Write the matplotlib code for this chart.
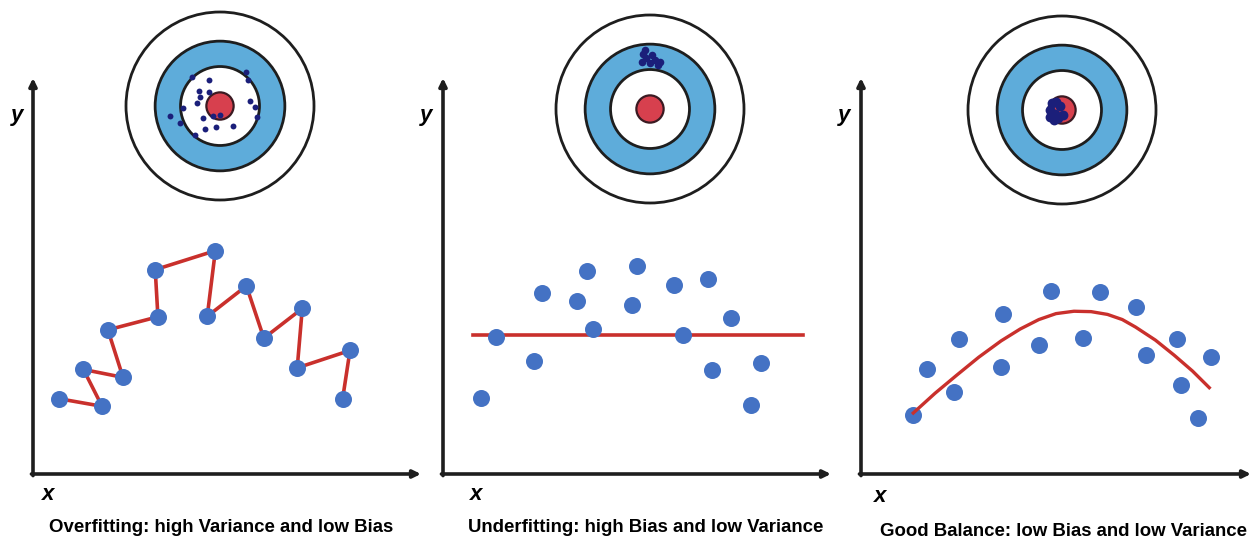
import matplotlib
matplotlib.use("Agg")
import matplotlib.pyplot as plt
from matplotlib.patches import Circle

W, H = 1256, 538
plt.rcParams['font.family'] = ['Liberation Sans', 'DejaVu Sans']

# ---------------- data ----------------
captions = ["Overfitting: high Variance and low Bias",
            "Underfitting: high Bias and low Variance",
            "Good Balance: low Bias and low Variance"]

# panel 1 (overfitting) - points joined in order
over_x = [0.68, 1.78, 1.30, 2.32, 1.93, 3.22, 3.15, 4.70, 4.49, 5.50, 5.95, 6.94, 6.81, 8.17, 7.98]
over_y = [1.90, 1.71, 2.64, 2.44, 3.64, 3.97, 5.16, 5.64, 3.98, 4.75, 3.43, 4.18, 2.68, 3.12, 1.90]

# panel 2 (underfitting)
under_x = [0.97, 1.36, 2.35, 2.56, 3.45, 3.72, 3.87, 4.88, 4.99, 5.95, 6.19, 6.83, 7.42, 6.93, 8.19, 7.93]
under_y = [1.92, 3.46, 2.86, 4.58, 4.37, 5.13, 3.66, 4.26, 5.24, 4.78, 3.52, 4.92, 3.93, 2.62, 2.81, 1.73]
under_line_x = [0.78, 9.27]
under_line_y = [3.51, 3.51]

# panel 3 (good balance)
good_x = [1.33, 1.70, 2.39, 2.50, 3.59, 3.64, 4.56, 4.86, 5.70, 6.13, 7.04, 7.30, 8.10, 8.20, 8.97, 8.63]
good_y = [1.50, 2.66, 2.07, 3.42, 2.70, 4.05, 3.26, 4.62, 3.44, 4.60, 4.22, 3.01, 3.42, 2.25, 2.95, 1.41]
good_curve_x = [1.34, 1.90, 2.46, 3.02, 3.59, 4.08, 4.56, 5.00, 5.46, 5.90, 6.32, 6.70, 7.04, 7.55, 8.03, 8.50, 8.93]
good_curve_y = [1.54, 2.04, 2.50, 2.95, 3.36, 3.66, 3.90, 4.05, 4.11, 4.10, 4.03, 3.90, 3.71, 3.38, 3.00, 2.60, 2.18]

# target hits (relative to target radius, centre = 0,0)
hits1_x = [-0.30, -0.12, 0.28, 0.30, -0.22, -0.12, -0.21, -0.24, -0.39, -0.53, -0.43, -0.18, -0.07, 0.00, -0.04, -0.16, -0.27, 0.14, 0.32, 0.37, 0.39]
hits1_y = [0.31, 0.28, 0.36, 0.28, 0.16, 0.15, 0.10, 0.03, -0.02, -0.11, -0.18, -0.13, -0.11, -0.10, -0.22, -0.24, -0.31, -0.21, 0.05, -0.01, -0.12]
hits2_x = [-0.07, -0.04, -0.09, 0.02, 0.05, 0.09, 0.00, -0.05, 0.11]
hits2_y = [0.59, 0.54, 0.50, 0.57, 0.52, 0.47, 0.49, 0.63, 0.50]
hits3_x = [-0.11, -0.06, -0.13, -0.07, -0.02, -0.09, -0.04, 0.01, -0.13]
hits3_y = [0.07, 0.09, 0.00, -0.04, 0.04, -0.11, -0.09, -0.05, -0.07]

# ---------------- layout ----------------
fig = plt.figure(figsize=(W / 100, H / 100), dpi=100)
fig.patch.set_facecolor('white')

PT_BLUE = '#4472C4'
LINE_RED = '#C9302C'
RING_BLUE = '#5EACDA'
BULL_RED = '#D7404E'
EDGE = '#1e1e1e'
HIT = '#1b1f7a'


def px_axes(left, top, width, height):
    return fig.add_axes([left / W, 1 - (top + height) / H, width / W, height / H])


def scatter_panel(left, right, bottom, top):
    ax = px_axes(left, top, right - left, bottom - top)
    ax.set_xlim(0, 10)
    ax.set_ylim(0, 10)
    ax.axis('off')
    arrow = dict(arrowstyle='-|>,head_length=0.45,head_width=0.22', lw=2.6, color=EDGE,
                 shrinkA=0, shrinkB=0)
    ax.annotate('', xy=(1, 0), xytext=(-0.004, 0), xycoords='axes fraction', arrowprops=arrow)
    ax.annotate('', xy=(0, 1), xytext=(0, -0.004), xycoords='axes fraction', arrowprops=arrow)
    return ax


def target(cx, cy, R, hx, hy, hit_size):
    pad = 1.04
    ax = px_axes(cx - R * pad, cy - R * pad, 2 * R * pad, 2 * R * pad)
    ax.set_xlim(-pad, pad)
    ax.set_ylim(-pad, pad)
    ax.set_aspect('equal')
    ax.axis('off')
    ax.add_patch(Circle((0, 0), 1.0, fc='white', ec=EDGE, lw=2.0))
    ax.add_patch(Circle((0, 0), 0.69, fc=RING_BLUE, ec=EDGE, lw=2.0))
    ax.add_patch(Circle((0, 0), 0.42, fc='white', ec=EDGE, lw=2.0))
    ax.add_patch(Circle((0, 0), 0.145, fc=BULL_RED, ec='#3a1a22', lw=1.6))
    ax.scatter(hx, hy, s=hit_size, color=HIT, zorder=5, linewidths=0)


# panel 1
ax1 = scatter_panel(33, 421, 474, 78)
ax1.plot(over_x, over_y, color=LINE_RED, lw=2.6, zorder=2)
ax1.scatter(over_x, over_y, s=150, color=PT_BLUE, zorder=3, linewidths=0)

# panel 2
ax2 = scatter_panel(443, 831, 474, 78)
ax2.plot(under_line_x, under_line_y, color=LINE_RED, lw=2.6, zorder=2)
ax2.scatter(under_x, under_y, s=150, color=PT_BLUE, zorder=3, linewidths=0)

# panel 3
ax3 = scatter_panel(861, 1251, 474, 78)
ax3.plot(good_curve_x, good_curve_y, color=LINE_RED, lw=2.4, zorder=4, solid_joinstyle='round')
ax3.scatter(good_x, good_y, s=150, color=PT_BLUE, zorder=3, linewidths=0)

# targets
target(220, 106, 94, hits1_x, hits1_y, 18)
target(650, 109, 94, hits2_x, hits2_y, 30)
target(1062, 110, 94, hits3_x, hits3_y, 50)

# text
lab = dict(fontsize=16, fontweight='bold', fontstyle='italic', ha='center', va='center')
for (x, y) in [(17, 116), (426, 116), (844, 116)]:
    fig.text(x / W, 1 - y / H, 'y', **lab)
for (x, y) in [(48, 495), (476, 495), (880, 496)]:
    fig.text(x / W, 1 - y / H, 'x', **lab)

cap = dict(fontsize=13.4, fontweight='bold', ha='center', va='center')
for (x, y), t in zip([(221, 527), (646, 527), (1064, 531)], captions):
    fig.text(x / W, 1 - y / H, t, **cap)

fig.savefig('out.png', dpi=100, facecolor='white')
